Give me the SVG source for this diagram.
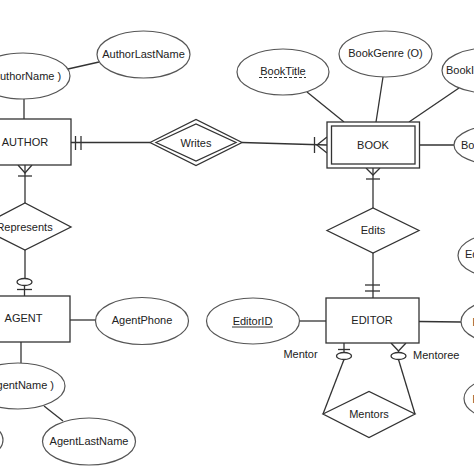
<svg xmlns="http://www.w3.org/2000/svg" width="474" height="474" viewBox="0 0 474 474">
<style>
.bg{fill:#ffffff}
.ent{fill:#ffffff;stroke:#333333;stroke-width:1.3}
.att{fill:#ffffff;stroke:#555555;stroke-width:1.2}
.rel{fill:#ffffff;stroke:#333333;stroke-width:1.3}
.ln{fill:none;stroke:#333333;stroke-width:1.3}
.t{font-family:"Liberation Sans",Arial,sans-serif;font-size:11px;fill:#222222}
.m{text-anchor:middle}
.e{text-anchor:end}
</style>
<rect class="bg" x="0" y="0" width="474" height="474"/>

<g id="connectors">
  <line class="ln" x1="68" y1="69" x2="99" y2="62"/>
  <line class="ln" x1="24" y1="99" x2="24" y2="119"/>
  <line class="ln" x1="71" y1="142.5" x2="150" y2="142.5"/>
  <line class="ln" x1="75.5" y1="136" x2="75.5" y2="150"/>
  <line class="ln" x1="81" y1="136" x2="81" y2="150"/>
  <line class="ln" x1="242" y1="142.5" x2="327" y2="145"/>
  <line class="ln" x1="314.5" y1="137" x2="314.5" y2="153"/>
  <polyline class="ln" points="327,137 317,145 327,153"/>
  <line class="ln" x1="307" y1="92" x2="344" y2="122"/>
  <line class="ln" x1="383" y1="77" x2="376" y2="122"/>
  <line class="ln" x1="459" y1="88" x2="409" y2="122"/>
  <line class="ln" x1="419.5" y1="145" x2="454" y2="145"/>
  <line class="ln" x1="373" y1="168" x2="373" y2="208"/>
  <polyline class="ln" points="366,168 373,175 380,168"/>
  <line class="ln" x1="366" y1="179" x2="380" y2="179"/>
  <line class="ln" x1="373" y1="253" x2="373" y2="298"/>
  <line class="ln" x1="365" y1="285" x2="380" y2="285"/>
  <line class="ln" x1="365" y1="291" x2="380" y2="291"/>
  <line class="ln" x1="300" y1="321" x2="326" y2="321"/>
  <line class="ln" x1="419" y1="321.5" x2="461" y2="322"/>
  <line class="ln" x1="344" y1="343" x2="344" y2="352.5"/>
  <line class="ln" x1="338" y1="349.5" x2="350" y2="349.5"/>
  <ellipse class="ln" cx="344" cy="356" rx="7.5" ry="3.5"/>
  <line class="ln" x1="344" y1="359.5" x2="323" y2="414"/>
  <polyline class="ln" points="391,343 398.5,351 406,343"/>
  <line class="ln" x1="398.5" y1="351" x2="398.5" y2="352.5"/>
  <ellipse class="ln" cx="398.5" cy="356" rx="7.5" ry="3.5"/>
  <line class="ln" x1="398.5" y1="359.5" x2="415" y2="414"/>
  <polyline class="ln" points="18,165 25,173 32,165"/>
  <line class="ln" x1="25" y1="165" x2="25" y2="203"/>
  <line class="ln" x1="18" y1="176" x2="32" y2="176"/>
  <line class="ln" x1="25" y1="250" x2="25" y2="278.5"/>
  <ellipse class="ln" cx="24.5" cy="282" rx="7.5" ry="3.5"/>
  <line class="ln" x1="24.5" y1="285.5" x2="24.5" y2="296"/>
  <line class="ln" x1="17" y1="289.5" x2="32" y2="289.5"/>
  <line class="ln" x1="70" y1="320" x2="96" y2="320"/>
  <line class="ln" x1="21" y1="342" x2="21" y2="363"/>
  <line class="ln" x1="44" y1="406" x2="63" y2="421"/>
</g>

<g id="AuthorName">
  <ellipse class="att" cx="23" cy="76" rx="47" ry="23"/>
  <text class="t" x="0" y="80">uthorName )</text>
</g>
<g id="AuthorLastName">
  <ellipse class="att" cx="143.5" cy="54.5" rx="46.5" ry="23.5"/>
  <text class="t m" x="143.5" y="57.5">AuthorLastName</text>
</g>
<g id="AUTHOR">
  <rect class="ent" x="-22" y="119" width="93" height="46"/>
  <text class="t m" x="25" y="146">AUTHOR</text>
</g>
<g id="Writes">
  <polygon class="rel" points="150,142.5 196,119.5 242,142.5 196,165.5"/>
  <polygon class="rel" points="156,142.5 196,124 236,142.5 196,161"/>
  <text class="t m" x="196" y="146.5">Writes</text>
</g>
<g id="BOOK">
  <rect class="ent" x="327" y="122" width="92.5" height="46"/>
  <rect class="ent" x="331.5" y="126" width="83.5" height="38"/>
  <text class="t m" x="373" y="149">BOOK</text>
</g>
<g id="BookTitle">
  <ellipse class="att" cx="283" cy="72" rx="46" ry="23"/>
  <text class="t m" x="283" y="75">BookTitle</text>
  <line x1="259" y1="77.5" x2="306" y2="77.5" stroke="#333333" stroke-width="1" stroke-dasharray="3,2"/>
</g>
<g id="BookGenre">
  <ellipse class="att" cx="385.5" cy="54" rx="46.5" ry="23"/>
  <text class="t m" x="385.5" y="56.5">BookGenre (O)</text>
</g>
<g id="BookI">
  <ellipse class="att" cx="488" cy="70.5" rx="46" ry="22.5"/>
  <text class="t" x="446" y="73.5">BookI</text>
</g>
<g id="Bo">
  <ellipse class="att" cx="500" cy="145" rx="46" ry="20"/>
  <text class="t" x="461" y="149">Bo</text>
</g>
<g id="Edits">
  <polygon class="rel" points="327,230.5 373,208 419,230.5 373,253"/>
  <text class="t m" x="373" y="234">Edits</text>
</g>
<g id="EDITOR">
  <rect class="ent" x="326" y="298" width="93" height="45"/>
  <text class="t m" x="372" y="324">EDITOR</text>
</g>
<g id="EditorID">
  <ellipse class="att" cx="253" cy="321" rx="46.5" ry="23"/>
  <text class="t m" x="252.5" y="324.5">EditorID</text>
  <line x1="232" y1="327" x2="273" y2="327" stroke="#333333" stroke-width="1"/>
</g>
<g id="Ed">
  <ellipse class="att" cx="504" cy="255.5" rx="46" ry="23"/>
  <text class="t" x="465" y="258">Ed</text>
</g>
<g id="E1">
  <ellipse class="att" cx="507" cy="321.5" rx="46" ry="23"/>
  <text class="t" x="472.5" y="326">E</text>
</g>
<g id="E2">
  <ellipse class="att" cx="510" cy="398.5" rx="46" ry="23"/>
  <text class="t" x="472.5" y="403">E</text>
</g>
<g id="labels">
  <text class="t m" x="300.5" y="358">Mentor</text>
  <text class="t" x="413" y="359">Mentoree</text>
</g>
<g id="Mentors">
  <polygon class="rel" points="323,414 369,391.5 415,414 369,437.5"/>
  <text class="t m" x="369" y="418">Mentors</text>
</g>
<g id="Represents">
  <polygon class="rel" points="-21,227 25,203 71,227 25,250"/>
  <text class="t m" x="24.5" y="231">Represents</text>
</g>
<g id="AGENT">
  <rect class="ent" x="-22" y="296" width="92" height="46"/>
  <text class="t m" x="23.5" y="322">AGENT</text>
</g>
<g id="AgentPhone">
  <ellipse class="att" cx="142" cy="321" rx="46.5" ry="23.5"/>
  <text class="t m" x="142" y="324">AgentPhone</text>
</g>
<g id="AgentName">
  <ellipse class="att" cx="18" cy="386" rx="47" ry="23"/>
  <text class="t e" x="54" y="389">gentName )</text>
</g>
<g id="AgentLastName">
  <ellipse class="att" cx="89" cy="441.5" rx="46.5" ry="23.5"/>
  <text class="t m" x="89" y="444.5">AgentLastName</text>
</g>
<g id="partial">
  <ellipse class="att" cx="-43" cy="440" rx="46" ry="23"/>
</g>
</svg>
